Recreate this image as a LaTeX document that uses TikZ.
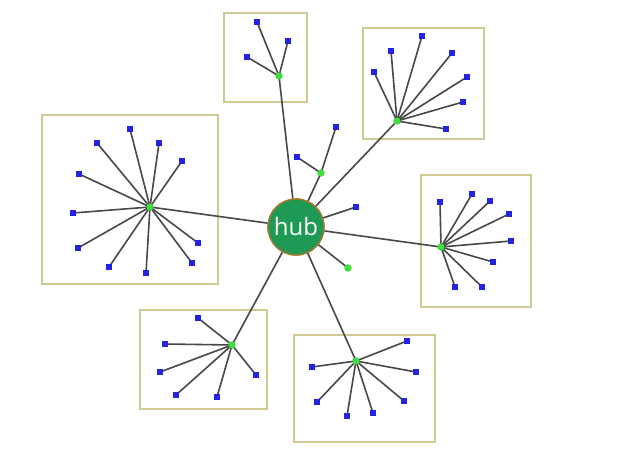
\documentclass[tikz,border=0pt]{standalone}
\usepackage{fontspec}
\setmainfont{Open Sans}
\definecolor{boxc}{HTML}{CFCA94}
\definecolor{linec}{HTML}{484848}
\definecolor{leafc}{HTML}{2424E0}
\definecolor{subc}{HTML}{3CE03C}
\definecolor{hubc}{HTML}{1E9A55}
\definecolor{hubb}{HTML}{A8782C}
\begin{document}
\begin{tikzpicture}[x=0.75pt,y=-0.75pt,
  grp/.style={draw=boxc,line width=1.4pt},
  edge/.style={draw=linec,line width=1.2pt},
  leaf/.style={fill=leafc,draw=none,minimum size=4.6pt,inner sep=0pt,rectangle},
  sub/.style={fill=subc,draw=none,minimum size=5.2pt,inner sep=0pt,circle},
  hubn/.style={circle,fill=hubc,draw=hubb,line width=1pt,minimum size=42pt,inner sep=0pt,text=white,font=\fontsize{18}{18}\selectfont}]
\useasboundingbox[fill=white] (0,0) rectangle (626,456);
% group boxes
\draw[grp] (224,13) rectangle (307,102);
\draw[grp] (363,28) rectangle (484,139);
\draw[grp] (42,115) rectangle (218,284);
\draw[grp] (421,175) rectangle (531,307);
\draw[grp] (140,310) rectangle (267,409);
\draw[grp] (294,335) rectangle (435,442);
% hub
\node[hubn] (hub) at (296,227) {hub};
% sub hubs
\node[sub] (c1) at (279,76) {};
\node[sub] (c2) at (397,121) {};
\node[sub] (c3) at (150,207) {};
\node[sub] (c4) at (441,247) {};
\node[sub] (c5) at (232,345) {};
\node[sub] (c6) at (356,361) {};
\node[sub] (g1) at (321,173) {};
\node[sub] (g2) at (348,268) {};
\node[leaf] (h1) at (356,207) {};
\node[leaf] (h2) at (336,127) {};
\node[leaf] (h3) at (297,157) {};
% leaves
\foreach \n/\p in {a1/{257,22},a2/{288,41},a3/{247,57}} \node[leaf] (\n) at (\p) {};
\foreach \n/\p in {b1/{422,36},b2/{391,51},b3/{452,53},b4/{374,72},b5/{467,77},b6/{463,102},b7/{446,129}} \node[leaf] (\n) at (\p) {};
\foreach \n/\p in {d1/{130,129},d2/{97,143},d3/{159,143},d4/{182,161},d5/{79,174},d6/{73,213},d7/{198,243},d8/{78,248},d9/{192,263},d10/{109,267},d11/{146,273}} \node[leaf] (\n) at (\p) {};
\foreach \n/\p in {e1/{440,202},e2/{472,194},e3/{490,201},e4/{509,214},e5/{511,241},e6/{493,262},e7/{482,287},e8/{455,287}} \node[leaf] (\n) at (\p) {};
\foreach \n/\p in {f1/{198,318},f2/{165,344},f3/{160,372},f4/{176,395},f5/{217,397},f6/{256,375}} \node[leaf] (\n) at (\p) {};
\foreach \n/\p in {k1/{407,341},k2/{312,367},k3/{416,372},k4/{317,402},k5/{404,401},k6/{347,416},k7/{373,413}} \node[leaf] (\n) at (\p) {};
% edges
\foreach \t in {a1,a2,a3} \draw[edge] (c1.center) -- (\t.center);
\foreach \t in {b1,b2,b3,b4,b5,b6,b7} \draw[edge] (c2.center) -- (\t.center);
\foreach \t in {d1,d2,d3,d4,d5,d6,d7,d8,d9,d10,d11} \draw[edge] (c3.center) -- (\t.center);
\foreach \t in {e1,e2,e3,e4,e5,e6,e7,e8} \draw[edge] (c4.center) -- (\t.center);
\foreach \t in {f1,f2,f3,f4,f5,f6} \draw[edge] (c5.center) -- (\t.center);
\foreach \t in {k1,k2,k3,k4,k5,k6,k7} \draw[edge] (c6.center) -- (\t.center);
\foreach \t in {h2,h3} \draw[edge] (g1.center) -- (\t.center);
\foreach \t in {c1,c2,c3,c4,c5,c6,g1,g2,h1} \draw[edge] (hub) -- (\t.center);
% redraw nodes on top
\foreach \n in {c1,c2,c3,c4,c5,c6,g1,g2} \fill[subc] (\n) circle (2.7pt);
\foreach \n in {a1,a2,a3,b1,b2,b3,b4,b5,b6,b7,d1,d2,d3,d4,d5,d6,d7,d8,d9,d10,d11,e1,e2,e3,e4,e5,e6,e7,e8,f1,f2,f3,f4,f5,f6,k1,k2,k3,k4,k5,k6,k7,h1,h2,h3}
  \fill[leafc] ([shift={(-2.3pt,-2.3pt)}]\n.center) rectangle ([shift={(2.3pt,2.3pt)}]\n.center);
\node[hubn] at (hub) {hub};
\end{tikzpicture}
\end{document}
